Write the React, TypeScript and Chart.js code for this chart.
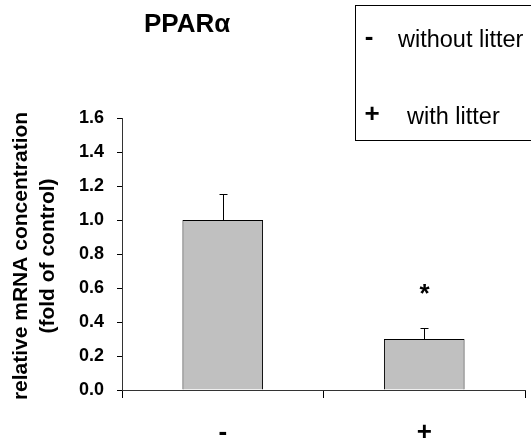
import React, { useEffect, useRef } from "react";
import { Chart, registerables } from "chart.js";

Chart.register(...registerables);

const categories = ["-", "+"];
const values = [1.0, 0.3];
const errors = [0.155, 0.066];
const significance = ["", "*"];
const yTicks = [0, 0.2, 0.4, 0.6, 0.8, 1.0, 1.2, 1.4, 1.6];
const legendItems = [
  { symbol: "-", text: "without litter" },
  { symbol: "+", text: "with litter" },
];
const titleText = "PPARα";
const yTitleLines = ["relative mRNA concentration", "(fold of control)"];

const FONT = "'Liberation Sans', Arial, sans-serif";

const overlayPlugin = {
  id: "overlay",
  afterDatasetsDraw(chart: any) {
    const ctx = chart.ctx;
    const x = chart.scales.x;
    const y = chart.scales.y;
    ctx.save();
    ctx.strokeStyle = "#000";
    ctx.lineWidth = 1;
    values.forEach((v, i) => {
      const cx = Math.round(x.getPixelForValue(i)) + 0.5;
      const yTop = Math.round(y.getPixelForValue(v + errors[i])) + 0.5;
      const yBase = Math.round(y.getPixelForValue(v)) + 0.5;
      ctx.beginPath();
      ctx.moveTo(cx, yBase);
      ctx.lineTo(cx, yTop);
      ctx.moveTo(cx - 4, yTop);
      ctx.lineTo(cx + 4, yTop);
      ctx.stroke();
      if (significance[i]) {
        ctx.fillStyle = "#000";
        ctx.font = `bold 26px ${FONT}`;
        ctx.textAlign = "center";
        ctx.textBaseline = "alphabetic";
        ctx.fillText(significance[i], cx, y.getPixelForValue(v + errors[i]) - 26);
      }
    });
    ctx.restore();
  },
  afterDraw(chart: any) {
    const ctx = chart.ctx;
    ctx.save();
    ctx.fillStyle = "#000";
    ctx.font = `bold 26px ${FONT}`;
    ctx.textAlign = "left";
    ctx.textBaseline = "alphabetic";
    ctx.fillText(titleText, 144, 32);
    ctx.strokeStyle = "#000";
    ctx.lineWidth = 1;
    ctx.strokeRect(355.5, 5.5, 190, 135);
    const rows = [38, 115];
    legendItems.forEach((item, i) => {
      ctx.font = `bold 26px ${FONT}`;
      ctx.textAlign = "center";
      ctx.textBaseline = "middle";
      ctx.fillText(item.symbol, i === 0 ? 369 : 372, rows[i]);
      ctx.font = `23.5px ${FONT}`;
      ctx.textAlign = "left";
      ctx.textBaseline = "alphabetic";
      ctx.fillText(item.text, i === 0 ? 398 : 407, rows[i] + 9);
    });
    ctx.font = `bold 21px ${FONT}`;
    ctx.textAlign = "center";
    ctx.textBaseline = "middle";
    const xs = [21, 48];
    yTitleLines.forEach((line, i) => {
      ctx.save();
      ctx.translate(xs[i], 256);
      ctx.rotate(-Math.PI / 2);
      ctx.fillText(line, 0, 0);
      ctx.restore();
    });
    ctx.restore();
  },
};

export default function App() {
  const ref = useRef<HTMLCanvasElement>(null);
  useEffect(() => {
    if (!ref.current) return;
    const chart = new Chart(ref.current, {
      type: "bar",
      data: {
        labels: categories,
        datasets: [
          {
            data: values,
            backgroundColor: "#C0C0C0",
            borderColor: "#000",
            borderWidth: 1,
            barPercentage: 0.4,
            categoryPercentage: 1,
          },
        ],
      },
      options: {
        animation: false,
        responsive: false,
        layout: { padding: { top: 118, right: 6, bottom: 0, left: 0 } },
        plugins: { legend: { display: false }, title: { display: false }, tooltip: { enabled: false } },
        scales: {
          x: {
            grid: { display: true, drawOnChartArea: false, drawTicks: true, tickLength: 8, color: "#000", offset: true },
            border: { display: true, color: "#333" },
            ticks: { color: "#000", font: { family: FONT, size: 26, weight: "bold" }, padding: 19 },
            afterFit: (s: any) => {
              s.height = 56;
            },
          },
          y: {
            min: 0,
            max: 1.6,
            afterBuildTicks: (s: any) => {
              s.ticks = yTicks.map((v) => ({ value: v }));
            },
            grid: { display: true, drawOnChartArea: false, drawTicks: true, tickLength: 5, color: "#000" },
            border: { display: true, color: "#333" },
            ticks: {
              color: "#000",
              font: { family: FONT, size: 18, weight: "bold" },
              padding: 13,
              callback: (v: any) => Number(v).toFixed(1),
            },
            afterFit: (s: any) => {
              s.width = 122;
            },
          },
        },
      },
      plugins: [overlayPlugin],
    } as any);
    return () => chart.destroy();
  }, []);
  return (
    <canvas
      ref={ref}
      width={531}
      height={446}
      style={{ position: "absolute", left: 0, top: 0, display: "block" }}
    />
  );
}
